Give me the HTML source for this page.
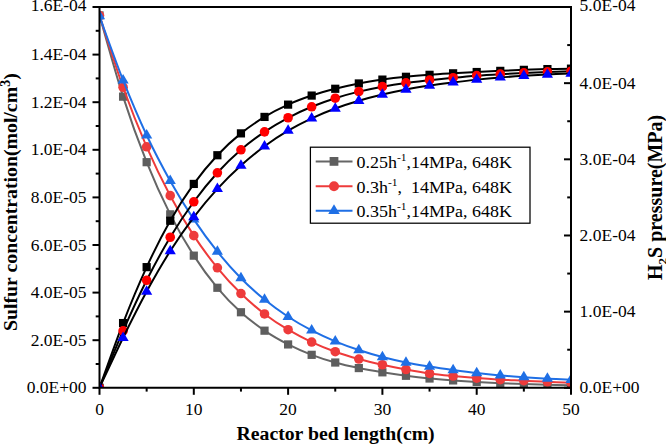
<!DOCTYPE html>
<html><head><meta charset="utf-8"><style>
html,body{margin:0;padding:0;background:#fff;width:666px;height:444px;overflow:hidden}
svg{position:absolute;left:0;top:0}
text{font-family:"Liberation Serif",serif;}
</style></head><body>
<svg width="666" height="444" viewBox="0 0 666 444">
<defs><clipPath id="pc"><rect x="99.5" y="7" width="471.5" height="380.8"/></clipPath></defs>
<g clip-path="url(#pc)"><path d="M99.5,15.4 C103.43,28.94 115.22,72.18 123.08,96.65 C130.93,121.11 138.79,142.57 146.65,162.18 C154.51,181.8 162.37,198.77 170.22,214.35 C178.08,229.93 185.94,243.42 193.8,255.65 C201.66,267.89 209.52,278.34 217.38,287.77 C225.23,297.2 233.09,305.1 240.95,312.25 C248.81,319.4 256.67,325.31 264.52,330.68 C272.38,336.04 280.24,340.41 288.1,344.44 C295.96,348.47 303.82,351.82 311.67,354.83 C319.53,357.85 327.39,360.32 335.25,362.52 C343.11,364.73 350.97,366.44 358.82,368.07 C366.68,369.71 374.54,371.04 382.4,372.33 C390.26,373.61 398.12,374.75 405.97,375.78 C413.83,376.81 421.69,377.73 429.55,378.51 C437.41,379.28 445.27,379.84 453.12,380.42 C460.98,380.99 468.84,381.48 476.7,381.94 C484.56,382.39 492.42,382.81 500.27,383.16 C508.13,383.52 515.99,383.82 523.85,384.08 C531.71,384.34 539.57,384.55 547.42,384.74 C555.28,384.93 567.07,385.13 571,385.21" fill="none" stroke="#666666" stroke-width="2"/><rect x="95.4" y="11.3" width="8.2" height="8.2" fill="#5e5e5e"/><rect x="118.98" y="92.55" width="8.2" height="8.2" fill="#5e5e5e"/><rect x="142.55" y="158.08" width="8.2" height="8.2" fill="#5e5e5e"/><rect x="166.12" y="210.25" width="8.2" height="8.2" fill="#5e5e5e"/><rect x="189.7" y="251.55" width="8.2" height="8.2" fill="#5e5e5e"/><rect x="213.28" y="283.67" width="8.2" height="8.2" fill="#5e5e5e"/><rect x="236.85" y="308.15" width="8.2" height="8.2" fill="#5e5e5e"/><rect x="260.42" y="326.58" width="8.2" height="8.2" fill="#5e5e5e"/><rect x="284" y="340.34" width="8.2" height="8.2" fill="#5e5e5e"/><rect x="307.57" y="350.73" width="8.2" height="8.2" fill="#5e5e5e"/><rect x="331.15" y="358.42" width="8.2" height="8.2" fill="#5e5e5e"/><rect x="354.72" y="363.97" width="8.2" height="8.2" fill="#5e5e5e"/><rect x="378.3" y="368.23" width="8.2" height="8.2" fill="#5e5e5e"/><rect x="401.87" y="371.68" width="8.2" height="8.2" fill="#5e5e5e"/><rect x="425.45" y="374.41" width="8.2" height="8.2" fill="#5e5e5e"/><rect x="449.02" y="376.32" width="8.2" height="8.2" fill="#5e5e5e"/><rect x="472.6" y="377.84" width="8.2" height="8.2" fill="#5e5e5e"/><rect x="496.17" y="379.06" width="8.2" height="8.2" fill="#5e5e5e"/><rect x="519.75" y="379.98" width="8.2" height="8.2" fill="#5e5e5e"/><rect x="543.32" y="380.64" width="8.2" height="8.2" fill="#5e5e5e"/><rect x="566.9" y="381.11" width="8.2" height="8.2" fill="#5e5e5e"/><path d="M99.5,15.6 C103.43,27.54 115.22,65.38 123.08,87.25 C130.93,109.11 138.79,128.71 146.65,146.78 C154.51,164.85 162.37,180.85 170.22,195.66 C178.08,210.47 185.94,223.61 193.8,235.64 C201.66,247.66 209.52,258.15 217.38,267.8 C225.23,277.45 233.09,285.85 240.95,293.54 C248.81,301.23 256.67,307.91 264.52,313.94 C272.38,319.97 280.24,325.04 288.1,329.73 C295.96,334.42 303.82,338.4 311.67,342.06 C319.53,345.72 327.39,348.86 335.25,351.69 C343.11,354.52 350.97,356.85 358.82,359.02 C366.68,361.2 374.54,363.01 382.4,364.76 C390.26,366.5 398.12,368.06 405.97,369.51 C413.83,370.95 421.69,372.34 429.55,373.43 C437.41,374.52 445.27,375.27 453.12,376.06 C460.98,376.84 468.84,377.52 476.7,378.12 C484.56,378.72 492.42,379.21 500.27,379.64 C508.13,380.07 515.99,380.33 523.85,380.7 C531.71,381.06 539.57,381.48 547.42,381.83 C555.28,382.18 567.07,382.65 571,382.82" fill="none" stroke="#ee3b3b" stroke-width="2"/><circle cx="99.5" cy="15.6" r="4.8" fill="#ee3b3b"/><circle cx="123.08" cy="87.25" r="4.8" fill="#ee3b3b"/><circle cx="146.65" cy="146.78" r="4.8" fill="#ee3b3b"/><circle cx="170.22" cy="195.66" r="4.8" fill="#ee3b3b"/><circle cx="193.8" cy="235.64" r="4.8" fill="#ee3b3b"/><circle cx="217.38" cy="267.8" r="4.8" fill="#ee3b3b"/><circle cx="240.95" cy="293.54" r="4.8" fill="#ee3b3b"/><circle cx="264.52" cy="313.94" r="4.8" fill="#ee3b3b"/><circle cx="288.1" cy="329.73" r="4.8" fill="#ee3b3b"/><circle cx="311.67" cy="342.06" r="4.8" fill="#ee3b3b"/><circle cx="335.25" cy="351.69" r="4.8" fill="#ee3b3b"/><circle cx="358.82" cy="359.02" r="4.8" fill="#ee3b3b"/><circle cx="382.4" cy="364.76" r="4.8" fill="#ee3b3b"/><circle cx="405.97" cy="369.51" r="4.8" fill="#ee3b3b"/><circle cx="429.55" cy="373.43" r="4.8" fill="#ee3b3b"/><circle cx="453.12" cy="376.06" r="4.8" fill="#ee3b3b"/><circle cx="476.7" cy="378.12" r="4.8" fill="#ee3b3b"/><circle cx="500.27" cy="379.64" r="4.8" fill="#ee3b3b"/><circle cx="523.85" cy="380.7" r="4.8" fill="#ee3b3b"/><circle cx="547.42" cy="381.83" r="4.8" fill="#ee3b3b"/><circle cx="571" cy="382.82" r="4.8" fill="#ee3b3b"/><path d="M99.5,16.2 C103.43,26.87 115.22,60.37 123.08,80.22 C130.93,100.06 138.79,118.5 146.65,135.29 C154.51,152.08 162.37,166.93 170.22,180.95 C178.08,194.96 185.94,207.59 193.8,219.37 C201.66,231.16 209.52,241.85 217.38,251.66 C225.23,261.46 233.09,270.21 240.95,278.2 C248.81,286.19 256.67,293.18 264.52,299.6 C272.38,306.01 280.24,311.58 288.1,316.72 C295.96,321.85 303.82,326.28 311.67,330.39 C319.53,334.49 327.39,338.05 335.25,341.33 C343.11,344.61 350.97,347.45 358.82,350.07 C366.68,352.7 374.54,355.01 382.4,357.08 C390.26,359.15 398.12,360.91 405.97,362.48 C413.83,364.06 421.69,365.29 429.55,366.55 C437.41,367.81 445.27,368.94 453.12,370.03 C460.98,371.12 468.84,372.19 476.7,373.09 C484.56,373.99 492.42,374.76 500.27,375.44 C508.13,376.12 515.99,376.63 523.85,377.17 C531.71,377.7 539.57,378.2 547.42,378.65 C555.28,379.1 567.07,379.66 571,379.86" fill="none" stroke="#1f6fe5" stroke-width="2"/><path d="M99.5,9.87 L105.1,19.37 L93.9,19.37 Z" fill="#1f6fe5"/><path d="M123.08,73.88 L128.68,83.38 L117.48,83.38 Z" fill="#1f6fe5"/><path d="M146.65,128.95 L152.25,138.45 L141.05,138.45 Z" fill="#1f6fe5"/><path d="M170.22,174.62 L175.82,184.12 L164.62,184.12 Z" fill="#1f6fe5"/><path d="M193.8,213.04 L199.4,222.54 L188.2,222.54 Z" fill="#1f6fe5"/><path d="M217.38,245.32 L222.97,254.82 L211.78,254.82 Z" fill="#1f6fe5"/><path d="M240.95,271.87 L246.55,281.37 L235.35,281.37 Z" fill="#1f6fe5"/><path d="M264.52,293.26 L270.12,302.76 L258.92,302.76 Z" fill="#1f6fe5"/><path d="M288.1,310.38 L293.7,319.88 L282.5,319.88 Z" fill="#1f6fe5"/><path d="M311.67,324.05 L317.27,333.55 L306.07,333.55 Z" fill="#1f6fe5"/><path d="M335.25,335 L340.85,344.5 L329.65,344.5 Z" fill="#1f6fe5"/><path d="M358.82,343.74 L364.43,353.24 L353.22,353.24 Z" fill="#1f6fe5"/><path d="M382.4,350.75 L388,360.25 L376.8,360.25 Z" fill="#1f6fe5"/><path d="M405.97,356.15 L411.57,365.65 L400.37,365.65 Z" fill="#1f6fe5"/><path d="M429.55,360.22 L435.15,369.72 L423.95,369.72 Z" fill="#1f6fe5"/><path d="M453.12,363.7 L458.73,373.2 L447.52,373.2 Z" fill="#1f6fe5"/><path d="M476.7,366.76 L482.3,376.26 L471.1,376.26 Z" fill="#1f6fe5"/><path d="M500.27,369.11 L505.88,378.61 L494.67,378.61 Z" fill="#1f6fe5"/><path d="M523.85,370.83 L529.45,380.33 L518.25,380.33 Z" fill="#1f6fe5"/><path d="M547.42,372.31 L553.02,381.81 L541.82,381.81 Z" fill="#1f6fe5"/><path d="M571,373.53 L576.6,383.03 L565.4,383.03 Z" fill="#1f6fe5"/><path d="M99.5,387.8 C103.43,377.01 115.22,343.17 123.08,323.06 C130.93,302.95 138.79,284.19 146.65,267.14 C154.51,250.09 162.37,234.63 170.22,220.76 C178.08,206.89 185.94,194.85 193.8,183.93 C201.66,173 209.52,163.66 217.38,155.23 C225.23,146.81 233.09,139.75 240.95,133.37 C248.81,126.98 256.67,121.71 264.52,116.92 C272.38,112.13 280.24,108.19 288.1,104.63 C295.96,101.07 303.82,98.21 311.67,95.57 C319.53,92.92 327.39,90.79 335.25,88.77 C343.11,86.75 350.97,84.99 358.82,83.46 C366.68,81.93 374.54,80.71 382.4,79.6 C390.26,78.48 398.12,77.58 405.97,76.79 C413.83,75.99 421.69,75.39 429.55,74.81 C437.41,74.23 445.27,73.79 453.12,73.32 C460.98,72.86 468.84,72.43 476.7,72.02 C484.56,71.61 492.42,71.23 500.27,70.87 C508.13,70.5 515.99,70.15 523.85,69.85 C531.71,69.56 539.57,69.29 547.42,69.09 C555.28,68.89 567.07,68.72 571,68.65" fill="none" stroke="#000000" stroke-width="2"/><rect x="95.4" y="383.7" width="8.2" height="8.2" fill="#000000"/><rect x="118.98" y="318.96" width="8.2" height="8.2" fill="#000000"/><rect x="142.55" y="263.04" width="8.2" height="8.2" fill="#000000"/><rect x="166.12" y="216.66" width="8.2" height="8.2" fill="#000000"/><rect x="189.7" y="179.83" width="8.2" height="8.2" fill="#000000"/><rect x="213.28" y="151.13" width="8.2" height="8.2" fill="#000000"/><rect x="236.85" y="129.27" width="8.2" height="8.2" fill="#000000"/><rect x="260.42" y="112.82" width="8.2" height="8.2" fill="#000000"/><rect x="284" y="100.53" width="8.2" height="8.2" fill="#000000"/><rect x="307.57" y="91.47" width="8.2" height="8.2" fill="#000000"/><rect x="331.15" y="84.67" width="8.2" height="8.2" fill="#000000"/><rect x="354.72" y="79.36" width="8.2" height="8.2" fill="#000000"/><rect x="378.3" y="75.5" width="8.2" height="8.2" fill="#000000"/><rect x="401.87" y="72.69" width="8.2" height="8.2" fill="#000000"/><rect x="425.45" y="70.71" width="8.2" height="8.2" fill="#000000"/><rect x="449.02" y="69.22" width="8.2" height="8.2" fill="#000000"/><rect x="472.6" y="67.92" width="8.2" height="8.2" fill="#000000"/><rect x="496.17" y="66.77" width="8.2" height="8.2" fill="#000000"/><rect x="519.75" y="65.75" width="8.2" height="8.2" fill="#000000"/><rect x="543.32" y="64.99" width="8.2" height="8.2" fill="#000000"/><rect x="566.9" y="64.55" width="8.2" height="8.2" fill="#000000"/><path d="M99.5,387.8 C103.43,378.32 115.22,348.82 123.08,330.91 C130.93,312.99 138.79,295.9 146.65,280.29 C154.51,264.68 162.37,250.33 170.22,237.24 C178.08,224.15 185.94,212.52 193.8,201.78 C201.66,191.04 209.52,181.45 217.38,172.79 C225.23,164.13 233.09,156.64 240.95,149.82 C248.81,142.99 256.67,137.19 264.52,131.85 C272.38,126.51 280.24,121.94 288.1,117.76 C295.96,113.58 303.82,110.03 311.67,106.77 C319.53,103.52 327.39,100.75 335.25,98.23 C343.11,95.71 350.97,93.57 358.82,91.64 C366.68,89.71 374.54,88.11 382.4,86.65 C390.26,85.19 398.12,83.97 405.97,82.89 C413.83,81.81 421.69,81.03 429.55,80.17 C437.41,79.32 445.27,78.51 453.12,77.76 C460.98,77.01 468.84,76.27 476.7,75.67 C484.56,75.07 492.42,74.61 500.27,74.15 C508.13,73.69 515.99,73.29 523.85,72.92 C531.71,72.55 539.57,72.19 547.42,71.91 C555.28,71.62 567.07,71.33 571,71.22" fill="none" stroke="#000000" stroke-width="2"/><circle cx="99.5" cy="387.8" r="4.8" fill="#ff0000"/><circle cx="123.08" cy="330.91" r="4.8" fill="#ff0000"/><circle cx="146.65" cy="280.29" r="4.8" fill="#ff0000"/><circle cx="170.22" cy="237.24" r="4.8" fill="#ff0000"/><circle cx="193.8" cy="201.78" r="4.8" fill="#ff0000"/><circle cx="217.38" cy="172.79" r="4.8" fill="#ff0000"/><circle cx="240.95" cy="149.82" r="4.8" fill="#ff0000"/><circle cx="264.52" cy="131.85" r="4.8" fill="#ff0000"/><circle cx="288.1" cy="117.76" r="4.8" fill="#ff0000"/><circle cx="311.67" cy="106.77" r="4.8" fill="#ff0000"/><circle cx="335.25" cy="98.23" r="4.8" fill="#ff0000"/><circle cx="358.82" cy="91.64" r="4.8" fill="#ff0000"/><circle cx="382.4" cy="86.65" r="4.8" fill="#ff0000"/><circle cx="405.97" cy="82.89" r="4.8" fill="#ff0000"/><circle cx="429.55" cy="80.17" r="4.8" fill="#ff0000"/><circle cx="453.12" cy="77.76" r="4.8" fill="#ff0000"/><circle cx="476.7" cy="75.67" r="4.8" fill="#ff0000"/><circle cx="500.27" cy="74.15" r="4.8" fill="#ff0000"/><circle cx="523.85" cy="72.92" r="4.8" fill="#ff0000"/><circle cx="547.42" cy="71.91" r="4.8" fill="#ff0000"/><circle cx="571" cy="71.22" r="4.8" fill="#ff0000"/><path d="M99.5,387.8 C103.43,379.46 115.22,353.78 123.08,337.74 C130.93,321.69 138.79,305.97 146.65,291.52 C154.51,277.07 162.37,263.45 170.22,251.05 C178.08,238.65 185.94,227.5 193.8,217.15 C201.66,206.79 209.52,197.51 217.38,188.91 C225.23,180.3 233.09,172.64 240.95,165.53 C248.81,158.42 256.67,152.05 264.52,146.24 C272.38,140.43 280.24,135.31 288.1,130.66 C295.96,126.01 303.82,122.01 311.67,118.32 C319.53,114.62 327.39,111.42 335.25,108.49 C343.11,105.56 350.97,103.06 358.82,100.74 C366.68,98.41 374.54,96.4 382.4,94.52 C390.26,92.64 398.12,90.96 405.97,89.46 C413.83,87.96 421.69,86.72 429.55,85.54 C437.41,84.37 445.27,83.4 453.12,82.41 C460.98,81.42 468.84,80.45 476.7,79.62 C484.56,78.79 492.42,78.07 500.27,77.45 C508.13,76.82 515.99,76.33 523.85,75.84 C531.71,75.35 539.57,74.87 547.42,74.48 C555.28,74.09 567.07,73.67 571,73.51" fill="none" stroke="#000000" stroke-width="2"/><path d="M99.5,381.47 L105.1,390.97 L93.9,390.97 Z" fill="#0000ff"/><path d="M123.08,331.4 L128.68,340.9 L117.48,340.9 Z" fill="#0000ff"/><path d="M146.65,285.19 L152.25,294.69 L141.05,294.69 Z" fill="#0000ff"/><path d="M170.22,244.72 L175.82,254.22 L164.62,254.22 Z" fill="#0000ff"/><path d="M193.8,210.81 L199.4,220.31 L188.2,220.31 Z" fill="#0000ff"/><path d="M217.38,182.57 L222.97,192.07 L211.78,192.07 Z" fill="#0000ff"/><path d="M240.95,159.2 L246.55,168.7 L235.35,168.7 Z" fill="#0000ff"/><path d="M264.52,139.9 L270.12,149.4 L258.92,149.4 Z" fill="#0000ff"/><path d="M288.1,124.33 L293.7,133.83 L282.5,133.83 Z" fill="#0000ff"/><path d="M311.67,111.99 L317.27,121.49 L306.07,121.49 Z" fill="#0000ff"/><path d="M335.25,102.15 L340.85,111.65 L329.65,111.65 Z" fill="#0000ff"/><path d="M358.82,94.4 L364.43,103.9 L353.22,103.9 Z" fill="#0000ff"/><path d="M382.4,88.18 L388,97.68 L376.8,97.68 Z" fill="#0000ff"/><path d="M405.97,83.13 L411.57,92.63 L400.37,92.63 Z" fill="#0000ff"/><path d="M429.55,79.21 L435.15,88.71 L423.95,88.71 Z" fill="#0000ff"/><path d="M453.12,76.08 L458.73,85.58 L447.52,85.58 Z" fill="#0000ff"/><path d="M476.7,73.29 L482.3,82.79 L471.1,82.79 Z" fill="#0000ff"/><path d="M500.27,71.11 L505.88,80.61 L494.67,80.61 Z" fill="#0000ff"/><path d="M523.85,69.51 L529.45,79.01 L518.25,79.01 Z" fill="#0000ff"/><path d="M547.42,68.15 L553.02,77.65 L541.82,77.65 Z" fill="#0000ff"/><path d="M571,67.18 L576.6,76.68 L565.4,76.68 Z" fill="#0000ff"/></g>
<path d="M99.5,7 H571 V387.8 H99.5 Z" fill="none" stroke="#000" stroke-width="2"/><line x1="92.5" y1="387.8" x2="99.5" y2="387.8" stroke="#000" stroke-width="2"/><line x1="95.7" y1="364" x2="99.5" y2="364" stroke="#000" stroke-width="2"/><line x1="92.5" y1="340.2" x2="99.5" y2="340.2" stroke="#000" stroke-width="2"/><line x1="95.7" y1="316.4" x2="99.5" y2="316.4" stroke="#000" stroke-width="2"/><line x1="92.5" y1="292.6" x2="99.5" y2="292.6" stroke="#000" stroke-width="2"/><line x1="95.7" y1="268.8" x2="99.5" y2="268.8" stroke="#000" stroke-width="2"/><line x1="92.5" y1="245" x2="99.5" y2="245" stroke="#000" stroke-width="2"/><line x1="95.7" y1="221.2" x2="99.5" y2="221.2" stroke="#000" stroke-width="2"/><line x1="92.5" y1="197.4" x2="99.5" y2="197.4" stroke="#000" stroke-width="2"/><line x1="95.7" y1="173.6" x2="99.5" y2="173.6" stroke="#000" stroke-width="2"/><line x1="92.5" y1="149.8" x2="99.5" y2="149.8" stroke="#000" stroke-width="2"/><line x1="95.7" y1="126" x2="99.5" y2="126" stroke="#000" stroke-width="2"/><line x1="92.5" y1="102.2" x2="99.5" y2="102.2" stroke="#000" stroke-width="2"/><line x1="95.7" y1="78.4" x2="99.5" y2="78.4" stroke="#000" stroke-width="2"/><line x1="92.5" y1="54.6" x2="99.5" y2="54.6" stroke="#000" stroke-width="2"/><line x1="95.7" y1="30.8" x2="99.5" y2="30.8" stroke="#000" stroke-width="2"/><line x1="92.5" y1="7" x2="99.5" y2="7" stroke="#000" stroke-width="2"/><line x1="564" y1="387.8" x2="571" y2="387.8" stroke="#000" stroke-width="2"/><line x1="567.2" y1="349.72" x2="571" y2="349.72" stroke="#000" stroke-width="2"/><line x1="564" y1="311.64" x2="571" y2="311.64" stroke="#000" stroke-width="2"/><line x1="567.2" y1="273.56" x2="571" y2="273.56" stroke="#000" stroke-width="2"/><line x1="564" y1="235.48" x2="571" y2="235.48" stroke="#000" stroke-width="2"/><line x1="567.2" y1="197.4" x2="571" y2="197.4" stroke="#000" stroke-width="2"/><line x1="564" y1="159.32" x2="571" y2="159.32" stroke="#000" stroke-width="2"/><line x1="567.2" y1="121.24" x2="571" y2="121.24" stroke="#000" stroke-width="2"/><line x1="564" y1="83.16" x2="571" y2="83.16" stroke="#000" stroke-width="2"/><line x1="567.2" y1="45.08" x2="571" y2="45.08" stroke="#000" stroke-width="2"/><line x1="564" y1="7" x2="571" y2="7" stroke="#000" stroke-width="2"/><line x1="99.5" y1="387.8" x2="99.5" y2="394.8" stroke="#000" stroke-width="2"/><line x1="146.65" y1="387.8" x2="146.65" y2="391.6" stroke="#000" stroke-width="2"/><line x1="193.8" y1="387.8" x2="193.8" y2="394.8" stroke="#000" stroke-width="2"/><line x1="240.95" y1="387.8" x2="240.95" y2="391.6" stroke="#000" stroke-width="2"/><line x1="288.1" y1="387.8" x2="288.1" y2="394.8" stroke="#000" stroke-width="2"/><line x1="335.25" y1="387.8" x2="335.25" y2="391.6" stroke="#000" stroke-width="2"/><line x1="382.4" y1="387.8" x2="382.4" y2="394.8" stroke="#000" stroke-width="2"/><line x1="429.55" y1="387.8" x2="429.55" y2="391.6" stroke="#000" stroke-width="2"/><line x1="476.7" y1="387.8" x2="476.7" y2="394.8" stroke="#000" stroke-width="2"/><line x1="523.85" y1="387.8" x2="523.85" y2="391.6" stroke="#000" stroke-width="2"/><line x1="571" y1="387.8" x2="571" y2="394.8" stroke="#000" stroke-width="2"/>
<g font-size="17.5" fill="#000"><text transform="translate(86.6,393.3) scale(1,0.925)" text-anchor="end">0.0E+00</text><text transform="translate(86.6,345.7) scale(1,0.925)" text-anchor="end">2.0E-05</text><text transform="translate(86.6,298.1) scale(1,0.925)" text-anchor="end">4.0E-05</text><text transform="translate(86.6,250.5) scale(1,0.925)" text-anchor="end">6.0E-05</text><text transform="translate(86.6,202.9) scale(1,0.925)" text-anchor="end">8.0E-05</text><text transform="translate(86.6,155.3) scale(1,0.925)" text-anchor="end">1.0E-04</text><text transform="translate(86.6,107.7) scale(1,0.925)" text-anchor="end">1.2E-04</text><text transform="translate(86.6,60.1) scale(1,0.925)" text-anchor="end">1.4E-04</text><text transform="translate(86.6,11.4) scale(1,0.925)" text-anchor="end">1.6E-04</text><text transform="translate(579.6,393.3) scale(1,0.925)">0.0E+00</text><text transform="translate(579.6,317.14) scale(1,0.925)">1.0E-04</text><text transform="translate(579.6,240.98) scale(1,0.925)">2.0E-04</text><text transform="translate(579.6,164.82) scale(1,0.925)">3.0E-04</text><text transform="translate(579.6,88.66) scale(1,0.925)">4.0E-04</text><text transform="translate(579.6,11.4) scale(1,0.925)">5.0E-04</text><text transform="translate(99.5,414.7) scale(1,0.925)" text-anchor="middle">0</text><text transform="translate(193.8,414.7) scale(1,0.925)" text-anchor="middle">10</text><text transform="translate(288.1,414.7) scale(1,0.925)" text-anchor="middle">20</text><text transform="translate(382.4,414.7) scale(1,0.925)" text-anchor="middle">30</text><text transform="translate(476.7,414.7) scale(1,0.925)" text-anchor="middle">40</text><text transform="translate(571,414.7) scale(1,0.925)" text-anchor="middle">50</text></g>
<g font-family="Liberation Serif" font-weight="bold" font-size="20" fill="#000">
<text x="236.5" y="440" font-size="19.75">Reactor bed length(cm)</text>
<text transform="translate(17.1,331) rotate(-90)" font-size="19.8">Sulfur concentration(mol/cm<tspan dy="-7.5" font-size="14">3</tspan><tspan dy="7.5">)</tspan></text>
<text transform="translate(661.5,280) rotate(-90)">H<tspan dy="5" font-size="13">2</tspan><tspan dy="-5">S pressure(MPa)</tspan></text>
</g>
<g>
<rect x="310.4" y="147.2" width="219.6" height="76" fill="none" stroke="#000" stroke-width="1.25"/>
<line x1="315.7" y1="161.4" x2="352.5" y2="161.4" stroke="#666666" stroke-width="2"/>
<rect x="329.61" y="157.01" width="8.77" height="8.77" fill="#5e5e5e"/>
<line x1="315.7" y1="186.2" x2="352.5" y2="186.2" stroke="#ee3b3b" stroke-width="2"/>
<circle cx="334" cy="186.2" r="4.99" fill="#ee3b3b"/>
<line x1="315.7" y1="210.8" x2="352.5" y2="210.8" stroke="#1f6fe5" stroke-width="2"/>
<path d="M334,204.28 L339.77,214.06 L328.23,214.06 Z" fill="#1f6fe5"/>
<g font-size="18" fill="#000" style="white-space:pre">
<text transform="translate(356.5,168.2) scale(1,0.9)">0.25h<tspan dy="-7.8" font-size="11.5">-1</tspan><tspan dy="7.8">,14MPa, 648K</tspan></text>
<text transform="translate(356.5,192.8) scale(1,0.9)">0.3h<tspan dy="-7.8" font-size="11.5">-1</tspan><tspan dy="7.8">,&#160; 14MPa, 648K</tspan></text>
<text transform="translate(356.5,217.3) scale(1,0.9)">0.35h<tspan dy="-7.8" font-size="11.5">-1</tspan><tspan dy="7.8">,14MPa, 648K</tspan></text>
</g>
</g>
</svg>
</body></html>
